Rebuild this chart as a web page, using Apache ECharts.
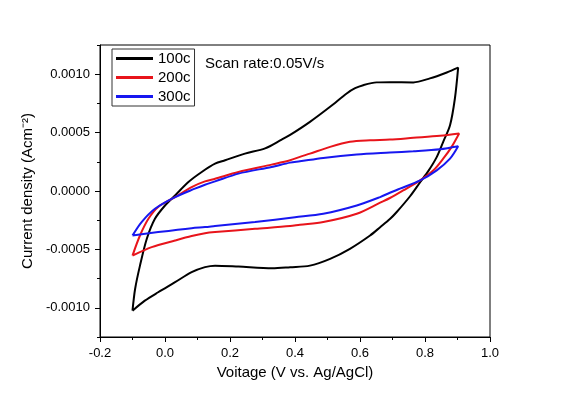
<!DOCTYPE html>
<html>
<head>
<meta charset="utf-8">
<script src="https://cdn.jsdelivr.net/npm/echarts@6/dist/echarts.min.js"></script>
<style>
  html, body { margin: 0; padding: 0; background: #fff; }
  #chart { width: 572px; height: 403px; }
</style>
</head>
<body>
<div id="chart"></div>
<script>
// 电压 (V vs. Ag/AgCl) 与电流密度 (A/cm2)，正扫 + 回扫，闭合曲线
const v100 = [-0.1, -0.092, -0.077, -0.056, -0.031, 0, 0.031, 0.072, 0.113, 0.154, 0.185, 0.246, 0.308, 0.359, 0.385, 0.446, 0.508, 0.559, 0.585, 0.61, 0.651, 0.692, 0.764, 0.815, 0.867, 0.902,
  0.892, 0.877, 0.856, 0.836, 0.81, 0.785, 0.754, 0.713, 0.692, 0.662, 0.631, 0.569, 0.508, 0.446, 0.385, 0.33, 0.226, 0.154, 0.123, 0.082, 0.031, -0.021, -0.062, -0.1];
const i100 = [-0.001025, -0.000839, -0.000639, -0.000409, -0.000238, -0.000124, -0.000038, 0.000077, 0.000163, 0.000234, 0.000263, 0.00032, 0.000365, 0.00044, 0.00048, 0.000592, 0.000721, 0.000835, 0.00088, 0.000906, 0.00093, 0.000932, 0.00093, 0.000964, 0.001015, 0.001056,
  0.000792, 0.000563, 0.000421, 0.00029, 0.00017, 0.000075, -0.000045, -0.00018, -0.00024, -0.00031, -0.000381, -0.000495, -0.000581, -0.000639, -0.000652, -0.000661, -0.000647, -0.000639, -0.000652, -0.000695, -0.000781, -0.000867, -0.000939, -0.001025];

const v200 = [-0.1, -0.077, -0.051, -0.021, 0.031, 0.082, 0.123, 0.154, 0.226, 0.328, 0.385, 0.415, 0.446, 0.508, 0.569, 0.631, 0.692, 0.764, 0.846, 0.905,
  0.882, 0.856, 0.826, 0.785, 0.733, 0.692, 0.662, 0.59, 0.487, 0.415, 0.385, 0.277, 0.154, 0.123, 0.082, 0.031, -0.041, -0.1];
const i200 = [-0.000553, -0.000381, -0.000238, -0.000137, -0.000052, 0.000034, 0.000082, 0.000105, 0.000163, 0.000226, 0.000263, 0.000292, 0.00032, 0.000378, 0.000421, 0.000434, 0.00044, 0.000455, 0.000472, 0.000492,
  0.000378, 0.000277, 0.000177, 0.000091, 0.000005, -0.00006, -0.0001, -0.000195, -0.000266, -0.000289, -0.0003, -0.000324, -0.000352, -0.000362, -0.000386, -0.000424, -0.000481, -0.000553];

const v300 = [-0.1, -0.072, -0.031, 0.031, 0.092, 0.123, 0.154, 0.226, 0.328, 0.385, 0.415, 0.487, 0.59, 0.692, 0.764, 0.846, 0.902,
  0.877, 0.836, 0.785, 0.723, 0.692, 0.662, 0.59, 0.487, 0.4, 0.277, 0.154, 0.123, 0.082, -0.021, -0.1];
const i300 = [-0.000381, -0.000266, -0.000152, -0.000052, 0.00002, 0.000054, 0.000082, 0.000149, 0.000206, 0.000243, 0.000254, 0.000283, 0.000312, 0.000329, 0.00034, 0.000357, 0.000383,
  0.000277, 0.000177, 0.000091, 0.00002, -0.000015, -0.000052, -0.000124, -0.000195, -0.000225, -0.000266, -0.0003, -0.000309, -0.000318, -0.000352, -0.000381];

const seriesNames = ['100c', '200c', '300c'];
const seriesColors = ['#000000', '#e8141b', '#1717f0'];
const yTickValues = [-0.001, -0.0005, 0, 0.0005, 0.001];

const pairs = (v, i) => v.map((x, k) => [x, i[k]]);
const allData = [pairs(v100, i100), pairs(v200, i200), pairs(v300, i300)];

const font = '"Liberation Sans", Arial, sans-serif';
const chart = echarts.init(document.getElementById('chart'));

chart.setOption({
  backgroundColor: '#fff',
  animation: false,
  textStyle: { fontFamily: font, color: '#000' },
  grid: {
    left: 100, right: 82, top: 45, bottom: 66,
    show: true, borderColor: '#000', borderWidth: 1,
    outerBoundsMode: 'none'
  },
  graphic: [{
    type: 'text', left: 205, top: 56,
    style: { text: 'Scan rate:0.05V/s', font: '15px ' + font, fill: '#000' }
  }],
  legend: {
    orient: 'vertical', left: 112, top: 49,
    data: seriesNames,
    icon: 'rect', itemWidth: 37, itemHeight: 3, itemGap: 4,
    padding: [2, 4, 2, 4],
    borderColor: '#333', borderWidth: 1,
    textStyle: { fontFamily: font, fontSize: 15, color: '#000' }
  },
  xAxis: {
    type: 'value', min: -0.2, max: 1.0, interval: 0.2,
    name: 'Voitage (V vs. Ag/AgCl)', nameLocation: 'middle', nameGap: 26,
    nameTextStyle: { fontSize: 15, fontFamily: font, color: '#000' },
    axisLine: { onZero: false, lineStyle: { color: '#000', width: 1 } },
    axisTick: { length: 5, lineStyle: { color: '#000' } },
    minorTick: { show: true, splitNumber: 2, length: 3, lineStyle: { color: '#000' } },
    axisLabel: { fontSize: 13, color: '#000', margin: 10, formatter: v => v.toFixed(1) },
    splitLine: { show: false }
  },
  yAxis: [{
    type: 'value', min: -0.00125, max: 0.00125,
    name: 'Current density (Acm\u207B\u00B2)', nameLocation: 'middle', nameGap: 51,
    nameTextStyle: { fontSize: 15, fontFamily: font, color: '#000' },
    axisLine: { show: true, onZero: false, lineStyle: { color: '#000', width: 1 } },
    axisTick: { show: true, length: 5, customValues: yTickValues, lineStyle: { color: '#000' } },
    axisLabel: { fontSize: 13, color: '#000', margin: 10, customValues: yTickValues, formatter: v => v.toFixed(4) },
    splitLine: { show: false }
  }, {
    type: 'value', min: -0.00125, max: 0.00125, interval: 0.00025, position: 'left',
    axisLine: { show: false, onZero: false },
    axisTick: { show: true, length: 3, lineStyle: { color: '#000' } },
    axisLabel: { show: false },
    splitLine: { show: false }
  }],
  series: seriesNames.map((name, k) => ({
    name, type: 'line', yAxisIndex: 0,
    data: allData[k],
    smooth: 0.3,
    showSymbol: false, symbol: 'none',
    lineStyle: { color: seriesColors[k], width: 2 },
    itemStyle: { color: seriesColors[k] }
  }))
});
</script>
</body>
</html>
